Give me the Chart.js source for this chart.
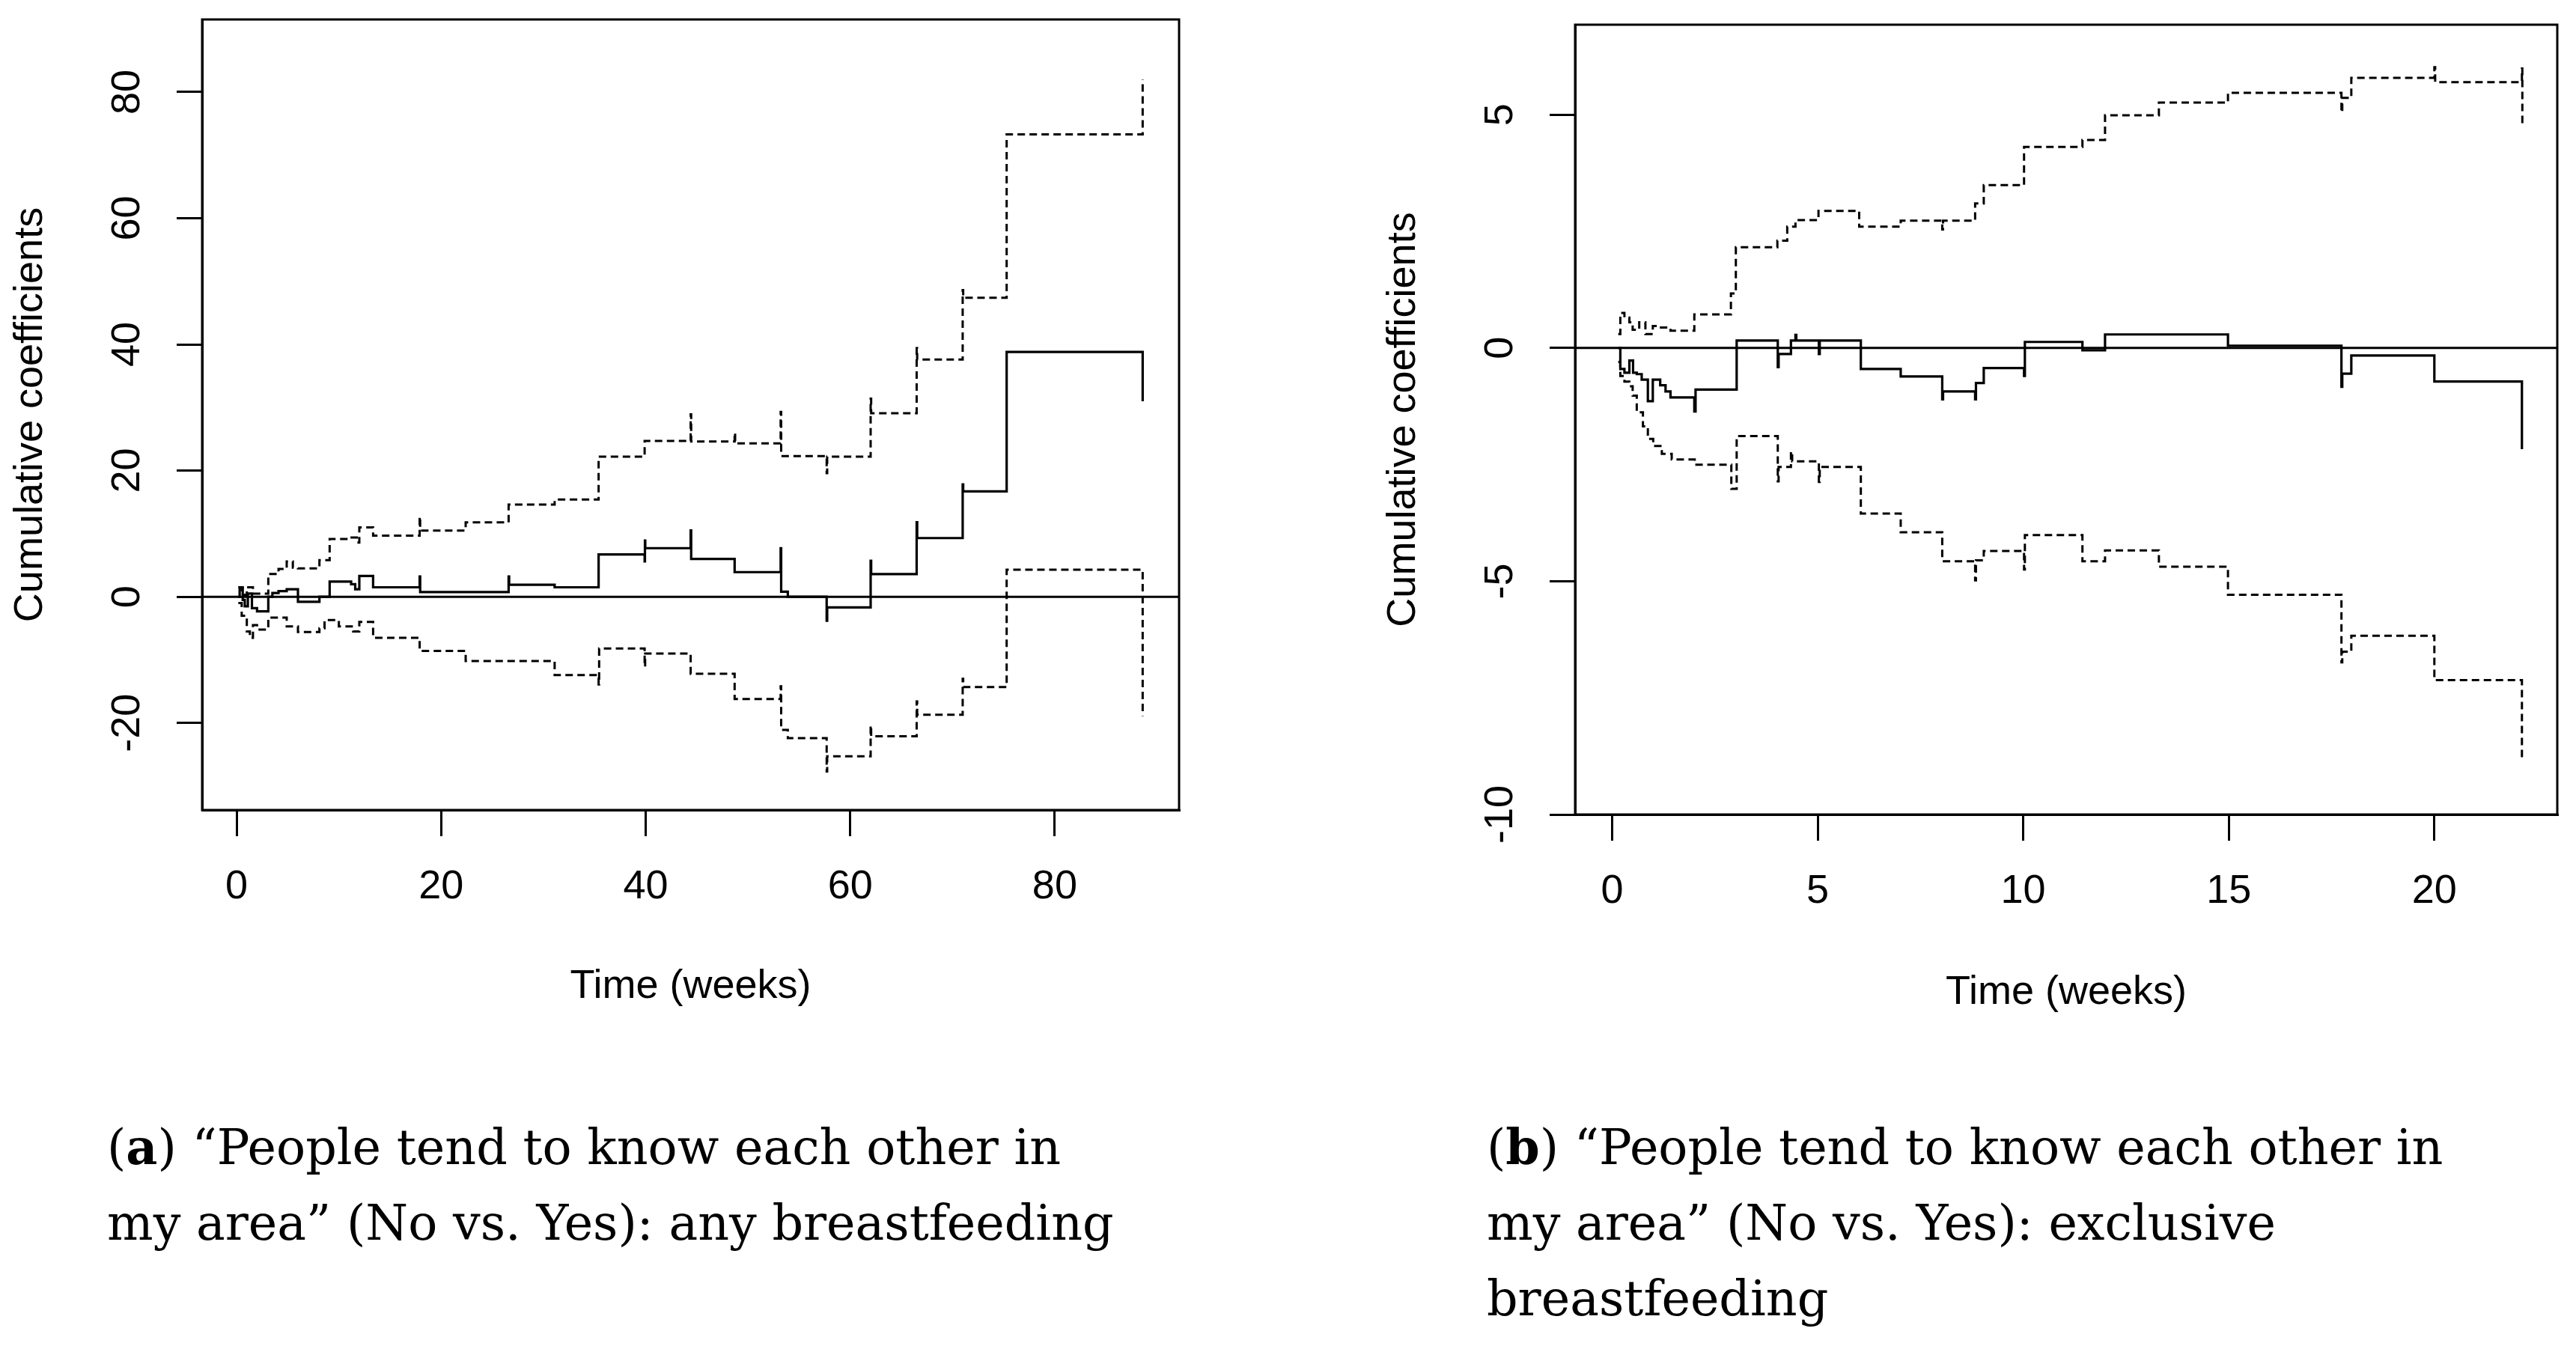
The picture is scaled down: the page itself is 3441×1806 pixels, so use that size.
<!DOCTYPE html>
<html>
<head>
<meta charset="utf-8">
<script src="https://cdn.jsdelivr.net/npm/chart.js@4.4.1/dist/chart.umd.min.js"></script>
<style>
  html, body { margin: 0; padding: 0; background: #fff; }
  body { width: 3441px; height: 1806px; position: relative; overflow: hidden; }
  canvas { position: absolute; top: 0; }
  .caption {
    position: absolute;
    font-family: "DejaVu Serif", serif;
    font-size: 65px;
    line-height: 101px;
    color: #000;
    white-space: nowrap;
  }
</style>
</head>
<body>
<canvas id="chartA" width="1720" height="1400" style="left:0;width:1720px;height:1400px"></canvas>
<canvas id="chartB" width="1607" height="1400" style="left:1834px;width:1607px;height:1400px"></canvas>
<div class="caption" style="left:143px;top:1482px">(<b>a</b>) “People tend to know each other in<br>my area” (No vs. Yes): any breastfeeding</div>
<div class="caption" style="left:1986px;top:1482px">(<b>b</b>) “People tend to know each other in<br>my area” (No vs. Yes): exclusive<br>breastfeeding</div>
<script>
// Panel (a): any breastfeeding
const xTicksA = [0, 20, 40, 60, 80];
const yTicksA = [-20, 0, 20, 40, 60, 80];

const estTimeA = [0.17, 0.3, 0.6, 0.8, 1.1, 1.5, 2.0, 3.1, 3.5, 4.1, 4.9, 6.0, 8.1, 9.1, 11.2, 11.6, 12.0, 13.35, 17.9, 17.95,
    22.4, 26.6, 26.65, 31.1, 35.4, 39.9, 39.93, 39.96, 44.4, 44.45, 48.7, 53.2, 53.25, 53.9, 57.7, 57.75, 62.0, 62.05, 66.5, 66.55,
    71.0, 71.05, 75.3, 88.6];
const estValueA = [0, 1.5, -0.5, -1.5, 0.5, -1.8, -2.3, 0.0, 0.6, 0.9, 1.2, -0.8, 0.0, 2.4, 2.0, 1.2, 3.3, 1.5, 3.2, 0.75,
    0.75, 3.2, 1.9, 1.5, 6.7, 5.6, 8.9, 7.7, 10.5, 6.0, 3.9, 7.7, 0.8, 0.0, -3.8, -1.7, 5.7, 3.6, 11.8, 9.3,
    17.8, 16.7, 38.8, 31.0];

const upperTimeA = [0.17, 0.5, 1.0, 1.6, 3.1, 4.1, 4.9, 5.5, 6.0, 8.1, 9.1, 11.0, 11.76, 12.0, 13.35, 17.9, 17.95, 22.4, 26.6, 31.1,
    35.4, 39.9, 44.4, 44.45, 48.7, 48.75, 53.2, 53.25, 57.7, 57.75, 62.0, 62.05, 66.5, 66.55, 71.0, 71.05, 75.3, 88.6];
const upperValueA = [1.5, 0.3, 1.5, 0.5, 3.6, 4.4, 5.6, 4.6, 4.5, 5.8, 9.15, 9.4, 8.6, 11.0, 9.7, 12.7, 10.5, 11.8, 14.6, 15.4,
    22.2, 24.7, 28.9, 24.6, 26.0, 24.3, 29.3, 22.3, 19.6, 22.2, 31.4, 29.1, 39.4, 37.6, 48.6, 47.4, 73.3, 82.0];

const lowerTimeA = [0.17, 0.5, 1.0, 1.3, 1.6, 2.0, 3.1, 4.9, 6.0, 8.1, 8.6, 10.0, 11.4, 12.0, 13.35, 17.9, 22.4, 31.1, 35.4, 35.45,
    39.9, 39.95, 44.4, 48.7, 53.2, 53.25, 53.9, 57.7, 57.75, 62.0, 62.05, 66.5, 66.55, 71.0, 71.05, 75.3, 88.6];
const lowerValueA = [-1.0, -3.0, -5.5, -6.5, -4.5, -5.2, -3.3, -4.7, -5.6, -5.0, -3.7, -4.7, -5.5, -4.0, -6.5, -8.6, -10.2, -12.4, -13.9, -8.2,
    -11.1, -9.0, -12.2, -16.2, -14.2, -21.1, -22.4, -27.7, -25.3, -20.4, -22.1, -16.6, -18.7, -13.0, -14.3, 4.3, -18.9];

// Panel (b): exclusive breastfeeding
const xTicksB = [0, 5, 10, 15, 20];
const yTicksB = [-10, -5, 0, 5];

const estTimeB = [0.15, 0.2, 0.3, 0.42, 0.51, 0.6, 0.72, 0.87, 0.99, 1.17, 1.3, 1.42, 2.0, 2.03, 3.03, 4.03, 4.05, 4.35, 4.46, 4.48,
    5.03, 5.05, 6.05, 7.02, 8.03, 8.05, 8.83, 8.85, 9.04, 10.02, 10.04, 11.44, 11.99, 14.98, 17.74, 17.76, 17.98, 20.0, 22.13];
const estValueB = [0, -0.45, -0.53, -0.27, -0.53, -0.56, -0.68, -1.14, -0.68, -0.8, -0.93, -1.06, -1.36, -0.89, 0.16, -0.41, -0.13, 0.16, 0.28, 0.16,
    -0.13, 0.16, -0.45, -0.61, -1.1, -0.93, -1.1, -0.75, -0.43, -0.6, 0.13, -0.05, 0.29, 0.05, -0.83, -0.55, -0.16, -0.72, -2.17];

const upperTimeB = [0.15, 0.2, 0.3, 0.42, 0.5, 0.66, 0.81, 0.99, 1.14, 1.42, 2.0, 2.89, 3.01, 4.02, 4.26, 4.46, 5.02, 6.01, 7.02, 8.03,
    8.05, 8.83, 9.04, 10.02, 11.44, 11.99, 13.3, 14.98, 17.74, 17.76, 17.98, 20.0, 20.02, 22.13, 22.14];
const upperValueB = [0.3, 0.75, 0.65, 0.55, 0.39, 0.55, 0.3, 0.47, 0.44, 0.37, 0.72, 1.17, 2.16, 2.3, 2.6, 2.74, 2.94, 2.6, 2.73, 2.54,
    2.73, 3.1, 3.49, 4.31, 4.46, 4.99, 5.26, 5.47, 5.05, 5.36, 5.79, 6.02, 5.70, 5.99, 4.73];

const lowerTimeB = [0.15, 0.2, 0.3, 0.42, 0.5, 0.6, 0.75, 0.87, 1.0, 1.21, 1.45, 2.01, 2.9, 3.03, 4.03, 4.05, 4.35, 4.38, 5.03, 5.05,
    6.05, 7.02, 8.03, 8.83, 8.85, 9.04, 10.02, 10.04, 11.44, 11.99, 13.3, 14.98, 17.74, 17.76, 17.98, 20.0, 22.13];
const lowerValueB = [-0.3, -0.6, -0.72, -0.82, -1.02, -1.38, -1.68, -1.95, -2.1, -2.27, -2.39, -2.5, -3.02, -1.89, -2.86, -2.55, -2.22, -2.43, -2.87, -2.55,
    -3.55, -3.95, -4.57, -4.98, -4.55, -4.35, -4.75, -4.01, -4.57, -4.34, -4.69, -5.29, -6.74, -6.51, -6.17, -7.12, -8.83];

const AXIS_FONT = '"Liberation Sans", Arial, sans-serif';

function toPoints(times, values) {
    return times.map((t, i) => ({ x: t, y: values[i] }));
}

// box round the plot region and R-style tick labels (y labels rotated)
const frameAndLabels = {
    id: 'frameAndLabels',
    afterDraw(chart) {
        const { ctx, chartArea, scales } = chart;
        ctx.save();
        ctx.strokeStyle = '#000';
        ctx.lineWidth = 3;
        ctx.strokeRect(chartArea.left, chartArea.top, chartArea.right - chartArea.left, chartArea.bottom - chartArea.top);

        ctx.fillStyle = '#000';
        ctx.font = '54px ' + AXIS_FONT;
        ctx.textAlign = 'center';
        ctx.textBaseline = 'middle';
        scales.x.ticks.forEach(t => {
            ctx.fillText(String(t.value), scales.x.getPixelForValue(t.value), chartArea.bottom + 103);
        });
        scales.y.ticks.forEach(t => {
            ctx.save();
            ctx.translate(chartArea.left - 99, scales.y.getPixelForValue(t.value));
            ctx.rotate(-Math.PI / 2);
            ctx.fillText(String(t.value), 0, 0);
            ctx.restore();
        });
        ctx.restore();
    }
};

function renderCoefChart(canvasId, cfg) {
    const ctx = document.getElementById(canvasId).getContext('2d');
    const dashed = {
        borderColor: '#000',
        borderWidth: 3,
        borderDash: [10, 6],
        stepped: 'before',
        pointRadius: 0
    };

    new Chart(ctx, {
        type: 'line',
        data: {
            datasets: [
                {
                    label: 'zero',
                    data: [{ x: cfg.xMin, y: 0 }, { x: cfg.xMax, y: 0 }],
                    borderColor: '#000',
                    borderWidth: 3,
                    pointRadius: 0
                },
                { label: 'upper', data: toPoints(cfg.upperTime, cfg.upperValue), ...dashed },
                { label: 'lower', data: toPoints(cfg.lowerTime, cfg.lowerValue), ...dashed },
                {
                    label: 'estimate',
                    data: toPoints(cfg.estTime, cfg.estValue),
                    borderColor: '#000',
                    borderWidth: 3.2,
                    stepped: 'before',
                    pointRadius: 0
                }
            ]
        },
        options: {
            responsive: false,
            devicePixelRatio: 1,
            animation: false,
            layout: {
                autoPadding: false,
                padding: { left: 0, right: cfg.padRight, top: cfg.padTop, bottom: 0 }
            },
            plugins: {
                legend: { display: false },
                tooltip: { enabled: false }
            },
            scales: {
                x: {
                    type: 'linear',
                    min: cfg.xMin,
                    max: cfg.xMax,
                    afterBuildTicks: axis => { axis.ticks = cfg.xTicks.map(v => ({ value: v })); },
                    afterFit: axis => { axis.height = cfg.xAxisHeight; },
                    ticks: { display: false },
                    grid: { drawOnChartArea: false, drawTicks: true, tickLength: 35, color: '#000', lineWidth: 3 },
                    border: { display: true, color: '#000', width: 3 },
                    title: {
                        display: true,
                        text: 'Time (weeks)',
                        color: '#000',
                        font: { family: AXIS_FONT, size: 54, lineHeight: 1.2 },
                        padding: { top: 0, bottom: cfg.xTitlePad }
                    }
                },
                y: {
                    type: 'linear',
                    min: cfg.yMin,
                    max: cfg.yMax,
                    afterBuildTicks: axis => { axis.ticks = cfg.yTicks.map(v => ({ value: v })); },
                    afterFit: axis => { axis.width = 270; },
                    ticks: { display: false },
                    grid: { drawOnChartArea: false, drawTicks: true, tickLength: 34, color: '#000', lineWidth: 3 },
                    border: { display: true, color: '#000', width: 3 },
                    title: {
                        display: true,
                        text: 'Cumulative coefficients',
                        color: '#000',
                        font: { family: AXIS_FONT, size: 54, lineHeight: 1.2 },
                        padding: { top: 9, bottom: 0 }
                    }
                }
            }
        },
        plugins: [frameAndLabels]
    });
}

renderCoefChart('chartA', {
    xMin: -3.37, xMax: 92.16, yMin: -33.8, yMax: 91.5,
    xTicks: xTicksA, yTicks: yTicksA,
    estTime: estTimeA, estValue: estValueA,
    upperTime: upperTimeA, upperValue: upperValueA,
    lowerTime: lowerTimeA, lowerValue: lowerValueA,
    padRight: 145, padTop: 26, xAxisHeight: 318, xTitlePad: 49
});

renderCoefChart('chartB', {
    xMin: -0.9, xMax: 22.99, yMin: -10.0, yMax: 6.93,
    xTicks: xTicksB, yTicks: yTicksB,
    estTime: estTimeB, estValue: estValueB,
    upperTime: upperTimeB, upperValue: upperValueB,
    lowerTime: lowerTimeB, lowerValue: lowerValueB,
    padRight: 25, padTop: 33, xAxisHeight: 312, xTitlePad: 41
});
</script>
</body>
</html>
